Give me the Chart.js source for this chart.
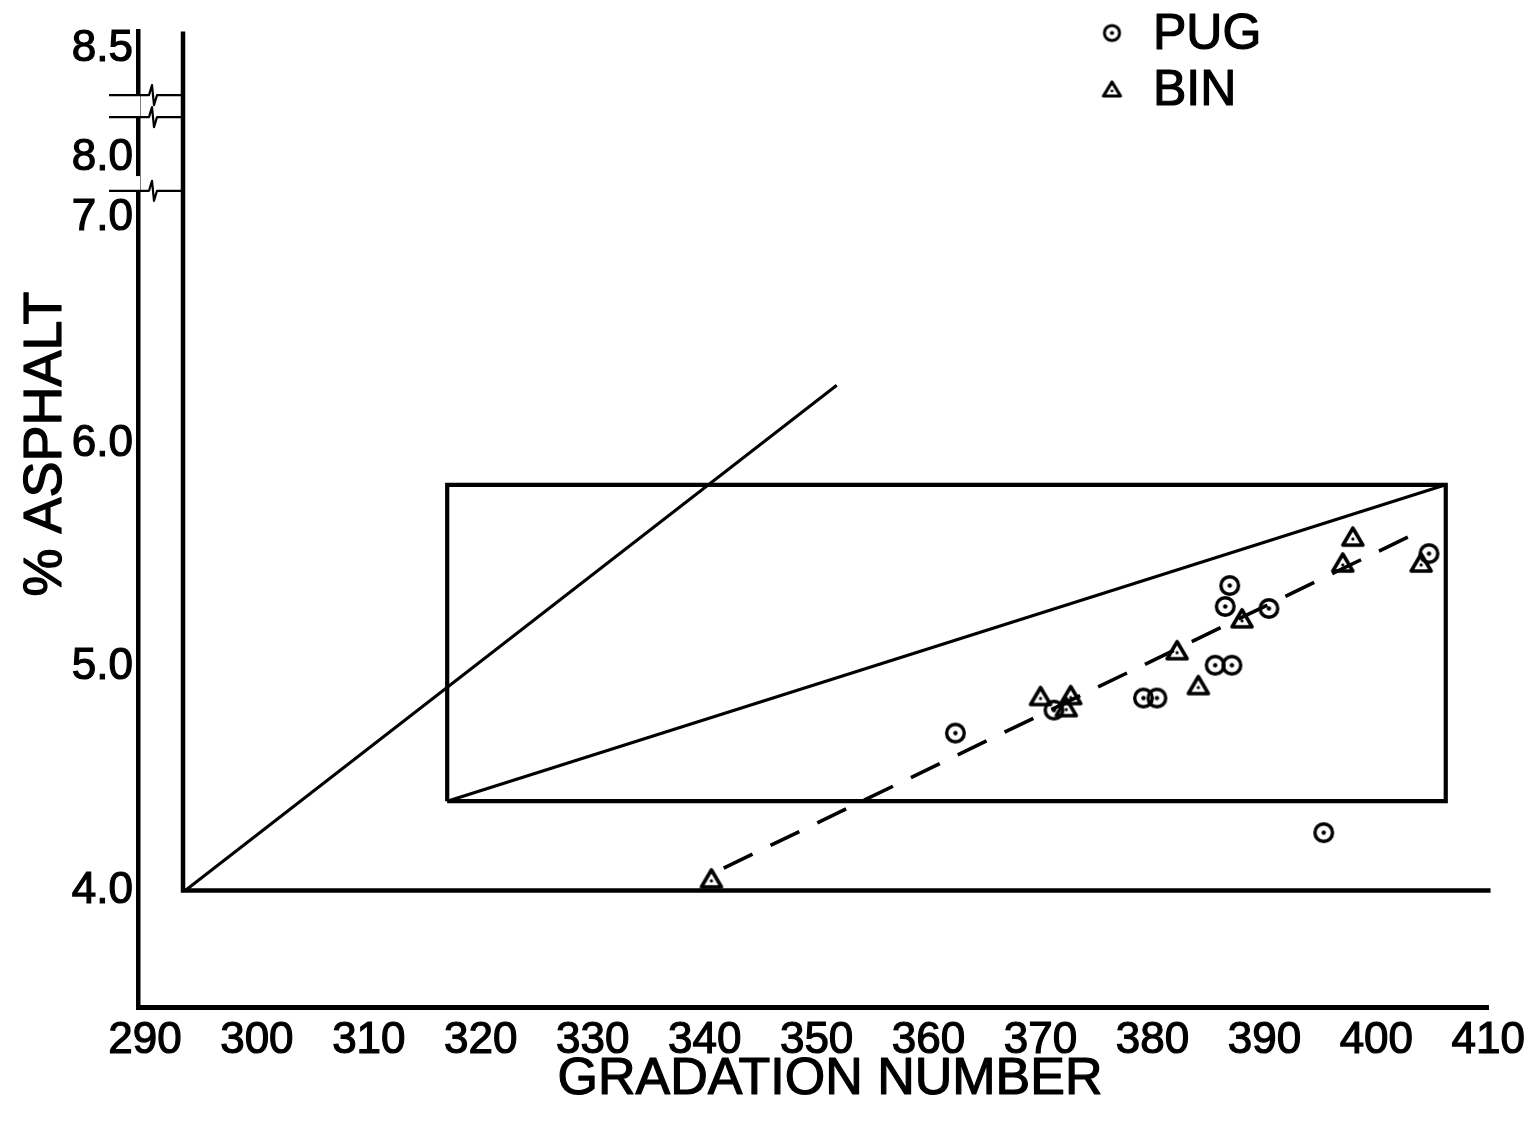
<!DOCTYPE html>
<html>
<head>
<meta charset="utf-8">
<title>% Asphalt vs Gradation Number</title>
<script src="https://cdn.jsdelivr.net/npm/chart.js@4.4.1/dist/chart.umd.min.js"></script>
<style>
  html, body { margin: 0; padding: 0; background: #ffffff; }
  #wrap { width: 1532px; height: 1129px; }
</style>
</head>
<body>
<div id="wrap"><canvas id="chart" width="1532" height="1129"></canvas></div>
<script>
// ---- measured samples ----
const pugGradation = [362.4, 371.2, 379.2, 380.4, 385.6, 387.1, 386.5, 386.9, 390.4, 404.7, 395.3];
const pugAsphalt   = [4.705, 4.808, 4.862, 4.862, 5.009, 5.009, 5.272, 5.366, 5.263, 5.509, 4.259];
const binGradation = [340.6, 370.0, 372.3, 372.7, 382.2, 384.1, 388.0, 397.0, 397.9, 404.0];
const binAsphalt   = [4.054, 4.871, 4.821, 4.875, 5.076, 4.920, 5.219, 5.469, 5.585, 5.469];

// ---- axes ----
const xTickValues = [290, 300, 310, 320, 330, 340, 350, 360, 370, 380, 390, 400, 410];
const yTickLabels = ['4.0', '5.0', '6.0', '7.0', '8.0', '8.5'];
const yTickSpots  = [4.0, 5.0, 6.0, 7.013, 7.281, 7.772];   // places on the broken scale
const yBreakMarks = [7.5625, 7.464, 7.134];
const yAxisGaps   = [[7.469, 7.5625], [7.134, 7.2]];

// ---- reference lines ----
const frameGradation = [293.4, 293.4, 410.2];
const frameAsphalt   = [7.848, 4.0, 4.0];
const steepGradation = [293.6, 351.8];
const steepAsphalt   = [4.0, 6.263];
const bandGradation  = [317.0, 406.2, 406.2, 317.0, 317.0];
const bandAsphalt    = [4.40, 4.40, 5.817, 5.817, 4.40];
const bandDiagGradation = [317.0, 406.2];
const bandDiagAsphalt   = [4.40, 5.817];
const binTrendGradation = [341.7, 402.9];
const binTrendAsphalt   = [4.10, 5.585];

const FONT = "'Liberation Sans', Arial, 'DejaVu Sans', sans-serif";

function pairs(xs, ys) { return xs.map((x, i) => ({ x: x, y: ys[i] })); }

// bullseye circle marker
function circleMarker(r, lw, dot) {
  const c = document.createElement('canvas');
  const s = Math.ceil(2 * r + lw + 4);
  c.width = s; c.height = s;
  const g = c.getContext('2d');
  g.strokeStyle = '#000'; g.fillStyle = '#000'; g.lineWidth = lw;
  g.beginPath(); g.arc(s / 2, s / 2, r, 0, Math.PI * 2); g.stroke();
  g.beginPath(); g.arc(s / 2, s / 2, dot, 0, Math.PI * 2); g.fill();
  return c;
}
// open triangle marker with a small inner tick
function triangleMarker(w, h, lw) {
  const c = document.createElement('canvas');
  const cw = Math.ceil(w + lw + 4), ch = Math.ceil(h + lw + 4);
  c.width = cw; c.height = ch;
  const g = c.getContext('2d');
  g.strokeStyle = '#000'; g.fillStyle = '#000'; g.lineWidth = lw; g.lineJoin = 'round';
  const cx = cw / 2, top = (ch - h) / 2, bot = top + h;
  g.beginPath(); g.moveTo(cx, top); g.lineTo(cx + w / 2, bot); g.lineTo(cx - w / 2, bot); g.closePath(); g.stroke();
  g.beginPath(); g.arc(cx, top + h * 0.64, Math.max(1.3, w * 0.08), 0, Math.PI * 2); g.fill();
  return c;
}

const pugImg = circleMarker(8.8, 3.4, 2.2);
const binImg = triangleMarker(20, 17, 3.6);
const pugLegendImg = circleMarker(7.6, 3.0, 2.1);
const binLegendImg = triangleMarker(17, 14, 3.2);

function lineSet(xs, ys, width, extra) {
  return Object.assign({
    type: 'line', data: pairs(xs, ys), showLine: true, fill: false,
    borderColor: '#000', borderWidth: width, pointRadius: 0, pointHoverRadius: 0,
    tension: 0, borderCapStyle: 'butt', borderJoinStyle: 'miter', clip: false, order: 2
  }, extra || {});
}

function boldText(g, text, x, y) {
  g.fillText(text, x, y);
  g.strokeText(text, x, y);
}

// axis breaks, titles and legend
const decorations = {
  id: 'decorations',
  afterDraw(chart) {
    const g = chart.ctx;
    const xs = chart.scales.x, ys = chart.scales.y;
    const left = chart.chartArea.left;
    const innerX = xs.getPixelForValue(frameGradation[0]);
    g.save();
    // gaps in the left axis
    g.fillStyle = '#fff';
    yAxisGaps.forEach(([lo, hi]) => {
      const a = ys.getPixelForValue(hi), b = ys.getPixelForValue(lo);
      g.fillRect(left - 9, a, 11, b - a);
    });
    // break marks
    g.strokeStyle = '#000'; g.lineWidth = 2.2; g.lineJoin = 'round';
    yBreakMarks.forEach(v => {
      const py = ys.getPixelForValue(v);
      g.beginPath();
      g.moveTo(left - 29, py);
      g.lineTo(left + 11, py);
      g.lineTo(left + 14, py - 10);
      g.lineTo(left + 16, py + 10);
      g.lineTo(left + 19, py);
      g.lineTo(innerX - 2, py);
      g.stroke();
    });
    // axis titles
    g.fillStyle = '#000'; g.strokeStyle = '#000'; g.lineWidth = 1.2;
    g.textAlign = 'center'; g.textBaseline = 'middle';
    g.font = '52px ' + FONT;
    boldText(g, 'GRADATION NUMBER', 830, 1080);
    g.save();
    g.translate(46, ys.getPixelForValue(6.0));
    g.rotate(-Math.PI / 2);
    g.font = '54px ' + FONT;
    boldText(g, '% ASPHALT', 0, 0);
    g.restore();
    // legend
    const items = [
      { img: pugLegendImg, label: chart.data.datasets[0].label, y: 33 },
      { img: binLegendImg, label: chart.data.datasets[1].label, y: 89 }
    ];
    g.textAlign = 'left';
    g.font = '50px ' + FONT;
    items.forEach(it => {
      g.drawImage(it.img, 1112 - it.img.width / 2, it.y - it.img.height / 2);
      boldText(g, it.label, 1153, it.y + 2);
    });
    g.restore();
  }
};

new Chart(document.getElementById('chart'), {
  type: 'scatter',
  data: {
    datasets: [
      { label: 'PUG', data: pairs(pugGradation, pugAsphalt), pointStyle: pugImg, pointRadius: 9, showLine: false, order: 0 },
      { label: 'BIN', data: pairs(binGradation, binAsphalt), pointStyle: binImg, pointRadius: 9, showLine: false, order: 1 },
      lineSet(frameGradation, frameAsphalt, 4.5),
      lineSet(steepGradation, steepAsphalt, 3),
      lineSet(bandGradation, bandAsphalt, 4.2),
      lineSet(bandDiagGradation, bandDiagAsphalt, 3.2),
      lineSet(binTrendGradation, binTrendAsphalt, 3.6, { borderDash: [32, 20] })
    ]
  },
  options: {
    responsive: false,
    animation: false,
    events: [],
    layout: { padding: { top: 28, right: 39, left: 0, bottom: 0 } },
    plugins: { legend: { display: false }, tooltip: { enabled: false } },
    scales: {
      x: {
        type: 'linear', min: 289.38, max: 410,
        grid: { display: false, drawTicks: false },
        border: { display: true, width: 5, color: '#000' },
        ticks: { color: '#000', font: { family: FONT, size: 44 }, padding: 7, maxRotation: 0, autoSkip: false,
                 textStrokeColor: '#000', textStrokeWidth: 1.2,
                 callback: v => String(v) },
        afterBuildTicks: s => { s.ticks = xTickValues.map(v => ({ value: v })); },
        afterFit: s => { s.height = 122; }
      },
      y: {
        type: 'linear', min: 3.478, max: 7.848,
        grid: { display: false, drawTicks: false },
        border: { display: true, width: 4.5, color: '#000' },
        ticks: { color: '#000', font: { family: FONT, size: 44 }, padding: 5, autoSkip: false,
                 textStrokeColor: '#000', textStrokeWidth: 1.2,
                 callback: (v, i) => yTickLabels[i] },
        afterBuildTicks: s => { s.ticks = yTickSpots.map(v => ({ value: v })); },
        afterFit: s => { s.width = 138; }
      }
    }
  },
  plugins: [decorations]
});
</script>
</body>
</html>
